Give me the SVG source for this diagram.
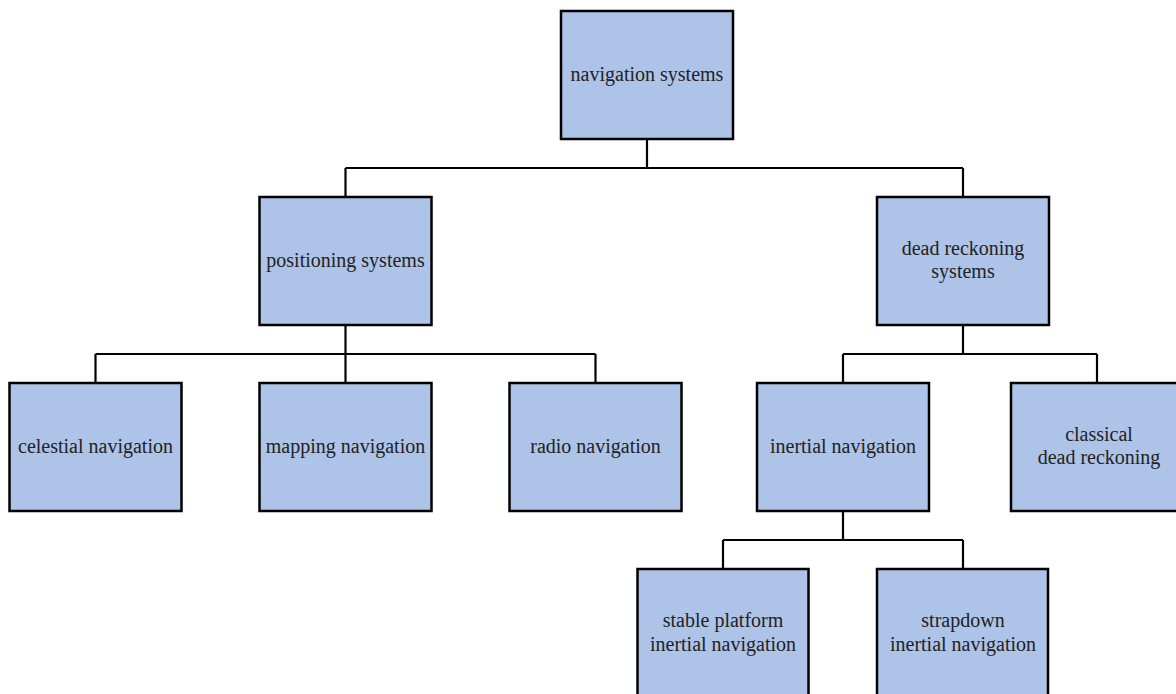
<svg xmlns="http://www.w3.org/2000/svg" width="1176" height="694" viewBox="0 0 1176 694">
  <style>
    .box { fill: #aec3e8; stroke: #000; stroke-width: 2.5; }
    .lbl { font-family: "Liberation Serif", "DejaVu Serif", serif; font-size: 20px; fill: #222; text-anchor: middle; }
    .wire { fill: none; stroke: #000; stroke-width: 2.2; }
  </style>
  <rect width="1176" height="694" fill="#fff"/>

  <!-- tree connectors -->
  <g id="connectors" class="wire">
    <path d="M647 139 V168 M345.5 168 H963 M345.5 168 V197 M963 168 V197"/>
    <path d="M345.5 325 V354 M95.5 354 H595.5 M95.5 354 V383 M345.5 354 V383 M595.5 354 V383"/>
    <path d="M963 325 V354 M843 354 H1097 M843 354 V383 M1097 354 V383"/>
    <path d="M843 511 V540 M723 540 H963 M723 540 V569 M963 540 V569"/>
  </g>

  <g id="navigation-systems">
    <rect class="box" x="561" y="11" width="172" height="128"/>
    <text class="lbl" x="647" y="81">navigation systems</text>
  </g>
  <g id="positioning-systems">
    <rect class="box" x="259.5" y="197" width="172" height="128"/>
    <text class="lbl" x="345.5" y="267">positioning systems</text>
  </g>
  <g id="dead-reckoning-systems">
    <rect class="box" x="877" y="197" width="172" height="128"/>
    <text class="lbl" x="963" y="255">dead reckoning</text>
    <text class="lbl" x="963" y="278">systems</text>
  </g>
  <g id="celestial-navigation">
    <rect class="box" x="9.5" y="383" width="172" height="128"/>
    <text class="lbl" x="95.5" y="453">celestial navigation</text>
  </g>
  <g id="mapping-navigation">
    <rect class="box" x="259.5" y="383" width="172" height="128"/>
    <text class="lbl" x="345.5" y="453">mapping navigation</text>
  </g>
  <g id="radio-navigation">
    <rect class="box" x="509.5" y="383" width="172" height="128"/>
    <text class="lbl" x="595.5" y="453">radio navigation</text>
  </g>
  <g id="inertial-navigation">
    <rect class="box" x="757" y="383" width="172" height="128"/>
    <text class="lbl" x="843" y="453">inertial navigation</text>
  </g>
  <g id="classical-dead-reckoning">
    <rect class="box" x="1011" y="383" width="172" height="128"/>
    <text class="lbl" x="1099" y="441">classical</text>
    <text class="lbl" x="1099" y="464">dead reckoning</text>
  </g>
  <g id="stable-platform">
    <rect class="box" x="637.5" y="569" width="171" height="140"/>
    <text class="lbl" x="723" y="627">stable platform</text>
    <text class="lbl" x="723" y="651">inertial navigation</text>
  </g>
  <g id="strapdown">
    <rect class="box" x="877" y="569" width="171" height="140"/>
    <text class="lbl" x="963" y="627">strapdown</text>
    <text class="lbl" x="963" y="651">inertial navigation</text>
  </g>
</svg>
